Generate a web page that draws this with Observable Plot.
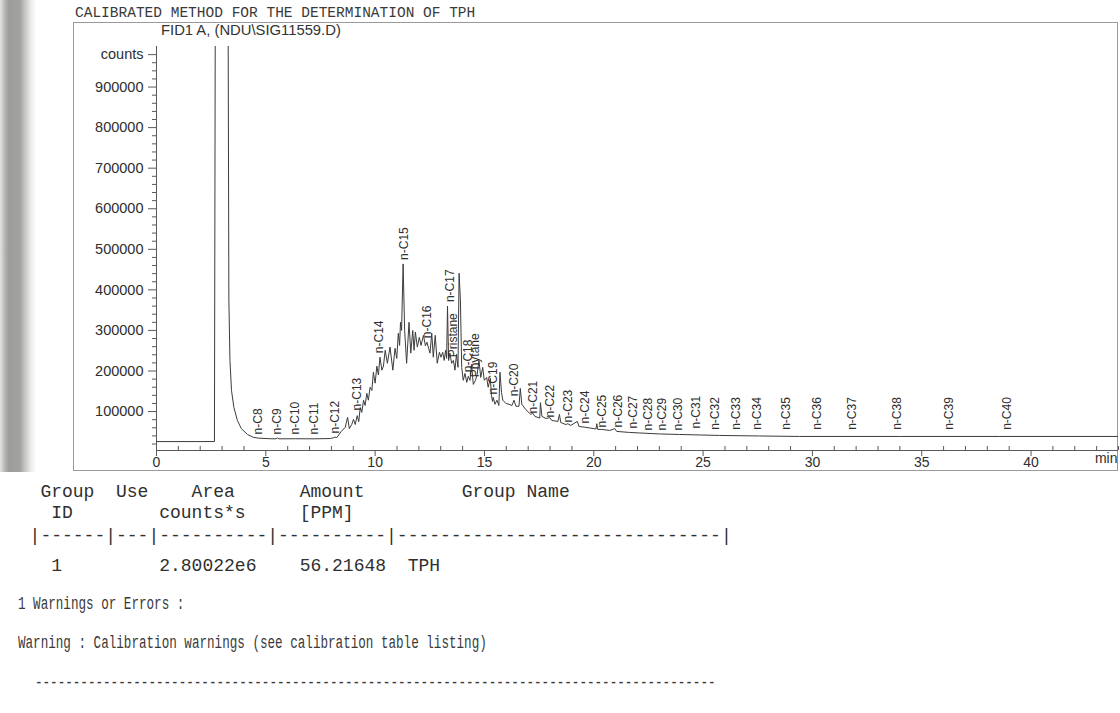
<!DOCTYPE html>
<html>
<head>
<meta charset="utf-8">
<script src="https://cdn.jsdelivr.net/npm/d3@7"></script>
<script src="https://cdn.jsdelivr.net/npm/@observablehq/plot@0.6"></script>
<style>
  html, body { margin: 0; padding: 0; background: #fff; }
  #page { position: relative; width: 1120px; height: 713px; overflow: hidden; background: #fff; }
  #strip { position: absolute; left: 0; top: 0; width: 36px; height: 472px;
    background: linear-gradient(to right, #e4e4e2 0px, #b4b4b2 5px, #9c9c9a 9px, #a2a2a0 20px, #c6c6c4 25px, #ececea 31px, #ffffff 36px); }
  #frame { position: absolute; left: 73px; top: 22px; width: 1045px; height: 449px;
    border: 1px solid #9a9a9a; box-sizing: border-box; }
  #chart { position: absolute; left: 0; top: 0; }
  .mono { position: absolute; font-family: "Liberation Mono", "Courier New", monospace; white-space: pre; color: #303030; }
  #title { left: 75px; top: 6px; font-size: 14.5px; line-height: 14.5px; color: #3a3a3a; }
  #signal { position: absolute; left: 161px; top: 23px; font-family: "Liberation Sans", Arial, sans-serif;
    font-size: 14.8px; line-height: 14.8px; color: #333; white-space: pre; }
  .row { left: 29.6px; font-size: 18px; line-height: 18px; }
  .cond { left: 18px; font-size: 18px; line-height: 18px; transform: scaleX(0.7); transform-origin: 0 0; color: #3a3a3a; }
</style>
</head>
<body>
<div id="page">
  <div id="strip"></div>
  <div id="frame"></div>
  <div id="chart"></div>
  <div id="title" class="mono">CALIBRATED METHOD FOR THE DETERMINATION OF TPH</div>
  <div id="signal">FID1 A, (NDU\SIG11559.D)</div>
  <div id="report"></div>
</div>
<script>
// FID signal: retention time (min) and detector response (counts)
const traceTime = [
  0, 2.65, 2.70, 3.26, 3.31, 3.36, 3.43, 3.54, 3.70, 3.88,
  4.16, 4.43, 4.66, 5.20, 5.47, 5.53, 5.60, 6.35, 7.21, 7.95,
  8.10, 8.17, 8.25, 8.45, 8.63, 8.74, 8.82, 8.93, 9.01, 9.09,
  9.18, 9.25, 9.32, 9.39, 9.47, 9.54, 9.62, 9.69, 9.77, 9.85,
  9.92, 10.00, 10.08, 10.15, 10.22, 10.31, 10.38, 10.46, 10.56, 10.68,
  10.81, 10.91, 10.99, 11.06, 11.12, 11.16, 11.21, 11.28, 11.35, 11.44,
  11.55, 11.63, 11.72, 11.78, 11.84, 11.93, 12.02, 12.10, 12.21, 12.30,
  12.37, 12.45, 12.51, 12.59, 12.66, 12.75, 12.84, 12.94, 13.01, 13.09,
  13.16, 13.22, 13.27, 13.31, 13.36, 13.42, 13.50, 13.58, 13.65, 13.72,
  13.79, 13.84, 13.90, 13.96, 14.03, 14.11, 14.19, 14.26, 14.34, 14.41,
  14.49, 14.59, 14.66, 14.75, 14.83, 14.92, 14.99, 15.10, 15.17, 15.27,
  15.32, 15.37, 15.40, 15.48, 15.57, 15.66, 15.71, 15.78, 15.84, 15.98,
  16.12, 16.26, 16.35, 16.44, 16.58, 16.64, 16.71, 16.89, 17.12, 17.21,
  17.31, 17.53, 17.56, 17.63, 17.81, 17.99, 18.08, 18.36, 18.43, 18.49,
  18.72, 18.81, 18.95, 19.25, 19.32, 19.59, 20.10, 20.14, 20.18, 20.37,
  20.73, 20.96, 21.05, 21.64, 22.10, 23.01, 23.93, 24.84, 25.75, 27.58,
  29.41, 33.97, 38.54, 44.00
];
const traceCounts = [
  26000, 26000, 1400000, 1400000, 375000, 226000, 152000, 110000, 78000, 58000,
  43500, 36500, 34500, 33000, 32800, 35000, 32800, 33000, 32800, 33500,
  35500, 37000, 36000, 51000, 61000, 86000, 58000, 68000, 81000, 68000,
  90000, 75000, 110000, 98000, 128000, 115000, 145000, 128000, 160000, 152000,
  197000, 170000, 212000, 190000, 234000, 202000, 212000, 251000, 219000, 259000,
  202000, 256000, 231000, 293000, 263000, 320000, 300000, 464000, 300000, 219000,
  320000, 244000, 300000, 251000, 296000, 259000, 283000, 263000, 288000, 262000,
  271000, 255000, 244000, 293000, 234000, 288000, 219000, 246000, 234000, 246000,
  226000, 251000, 231000, 360000, 226000, 244000, 219000, 226000, 202000, 241000,
  209000, 441000, 375000, 209000, 177000, 194000, 172000, 187000, 177000, 216000,
  167000, 177000, 190000, 226000, 184000, 209000, 177000, 184000, 160000, 182000,
  140000, 125000, 135000, 118000, 128000, 115000, 197000, 147000, 128000, 120000,
  118000, 115000, 128000, 113000, 113000, 157000, 118000, 105000, 93000, 96000,
  88000, 84000, 122000, 88000, 83000, 85000, 78000, 75700, 93000, 73000,
  68000, 70000, 66000, 75700, 63300, 61500, 57000, 70000, 56000, 56000,
  53400, 58000, 51000, 48500, 47200, 44800, 43500, 42300, 41100, 39800,
  38600, 38600, 38600, 38600
];

// Identified peaks: name, retention time (min), apex response (counts)
const peakNames = [
  "n-C8", "n-C9", "n-C10", "n-C11", "n-C12", "n-C13", "n-C14", "n-C15", "n-C16", "n-C17",
  "Pristane", "n-C18", "Phytane", "n-C19", "n-C20", "n-C21", "n-C22", "n-C23", "n-C24", "n-C25",
  "n-C26", "n-C27", "n-C28", "n-C29", "n-C30", "n-C31", "n-C32", "n-C33", "n-C34", "n-C35",
  "n-C36", "n-C37", "n-C38", "n-C39", "n-C40"
];
const peakTimes = [
  4.66, 5.53, 6.35, 7.21, 8.17, 9.18, 10.20, 11.35, 12.37, 13.43,
  13.56, 14.25, 14.59, 15.39, 16.35, 17.21, 17.99, 18.81, 19.59, 20.37,
  21.10, 21.78, 22.47, 23.15, 23.84, 24.66, 25.53, 26.53, 27.49, 28.81,
  30.23, 31.83, 33.88, 36.26, 38.90
];
const peakCounts = [
  33700, 33700, 33700, 33700, 36100, 93000, 234000, 464000, 271000, 360000,
  224000, 187000, 174500, 132500, 127600, 85600, 75700, 63300, 61000, 51000,
  51000, 48500, 43500, 43500, 43500, 48500, 45000, 45000, 45000, 45000,
  45000, 45000, 45000, 45000, 45000
];

// Axis ticks
const yMajorTicks = [100000, 200000, 300000, 400000, 500000, 600000, 700000, 800000, 900000, 980000];
const yMinorTicks = d3.range(20000, 1000001, 20000).filter(v => v % 100000 !== 0 && v !== 980000);
const xMajorTicks = [0, 5, 10, 15, 20, 25, 30, 35, 40];
const xMinorTicks = d3.range(1, 45).filter(v => v % 5 !== 0);

// Report lines printed under the chromatogram
const reportRows = [
  " Group  Use    Area      Amount         Group Name",
  "  ID        counts*s     [PPM]",
  "|------|---|----------|----------|------------------------------|",
  "  1         2.80022e6    56.21648  TPH"
];
const reportNotes = [
  "1 Warnings or Errors :",
  "Warning : Calibration warnings (see calibration table listing)",
  "------------------------------------------------------------------------------------------"
];

const trace = traceTime.map((t, i) => ({t, c: traceCounts[i]}));
const peaks = peakNames.map((name, i) => ({name, t: peakTimes[i], c: peakCounts[i]}));

const axisColor = "#5a5a5a";
const font = "'Liberation Sans', Arial, sans-serif";

const chart = Plot.plot({
  width: 1120,
  height: 475,
  marginLeft: 156,
  marginRight: 2,
  marginTop: 46,
  marginBottom: 25,
  style: {background: "transparent", fontFamily: font, color: "#333", overflow: "visible"},
  x: {domain: [0, 44]},
  y: {domain: [4000, 1000000]},
  marks: [
    Plot.ruleX([0], {stroke: axisColor, strokeWidth: 1}),
    Plot.ruleY([4000], {stroke: axisColor, strokeWidth: 1}),
    Plot.axisY({ticks: yMajorTicks, tickSize: 8, tickPadding: 5, fontSize: 14.5, label: null,
      stroke: axisColor, fill: "#2e2e2e",
      tickFormat: d => d === 980000 ? "counts" : String(d)}),
    Plot.axisY({ticks: yMinorTicks, tickSize: 4, tickFormat: () => "", label: null, stroke: axisColor}),
    Plot.axisX({ticks: xMajorTicks, tickSize: 6, tickPadding: 1, fontSize: 14, label: null,
      stroke: axisColor, fill: "#2e2e2e", tickFormat: d => String(d)}),
    Plot.axisX({ticks: xMinorTicks, tickSize: -4, tickFormat: () => "", label: null, stroke: axisColor}),
    Plot.text(["min"], {frameAnchor: "bottom-right", textAnchor: "end", dy: 12, dx: -1,
      fontSize: 14, fill: "#2e2e2e"}),
    Plot.line(trace, {x: "t", y: "c", stroke: "#3c3c3c", strokeWidth: 1, clip: true}),
    Plot.text(peaks, {x: "t", y: "c", text: "name", rotate: -90, textAnchor: "start",
      dy: -4, fontSize: 12, fill: "#2e2e2e", fontFamily: font})
  ]
});
document.getElementById("chart").appendChild(chart);

// Monospace report text
const report = document.getElementById("report");
const rowTops = [483, 504, 527, 557];
reportRows.forEach((line, i) => {
  const el = document.createElement("div");
  el.className = "mono row";
  el.style.top = rowTops[i] + "px";
  el.textContent = line;
  report.appendChild(el);
});
const noteTops = [595, 634, 674];
const noteLefts = [18, 18, 35];
reportNotes.forEach((line, i) => {
  const el = document.createElement("div");
  el.className = "mono cond";
  el.style.top = noteTops[i] + "px";
  el.style.left = noteLefts[i] + "px";
  el.textContent = line;
  report.appendChild(el);
});
</script>
</body>
</html>
